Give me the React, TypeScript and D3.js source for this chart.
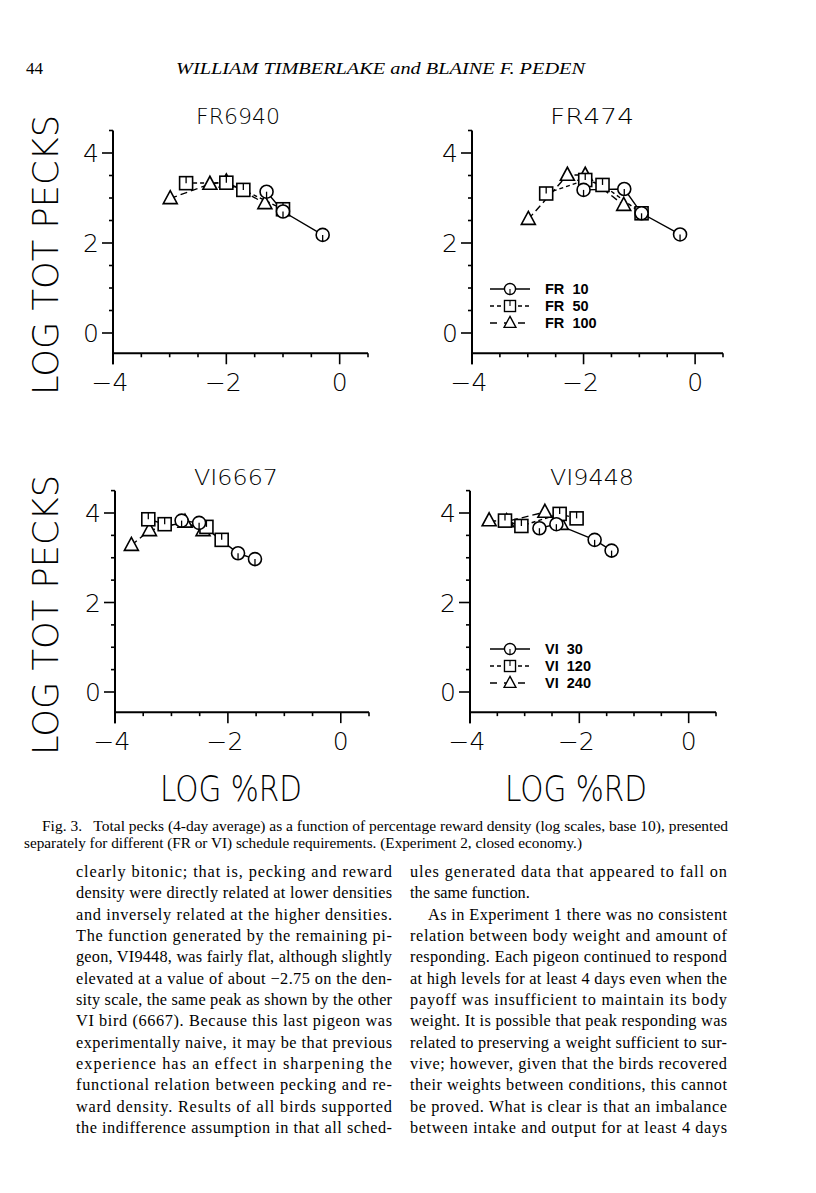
import React from "react";
import * as d3 from "d3";

// ---------- data ----------
const xMajorTicks = [-4, -2, 0];
const yMajorTicks = [0, 2, 4];
const xDomain = [-4, 0.5];
const yDomain = [-0.45, 4.5];

// FR6940
const fr6940_fr10_x = [-1.29, -1.0, -0.3];
const fr6940_fr10_y = [3.14, 2.7, 2.18];
const fr6940_fr50_x = [-2.71, -2.0, -1.7, -1.0];
const fr6940_fr50_y = [3.33, 3.34, 3.18, 2.75];
const fr6940_fr100_x = [-2.99, -2.29, -2.0, -1.32];
const fr6940_fr100_y = [2.99, 3.31, 3.36, 2.88];

// FR474
const fr474_fr10_x = [-2.0, -1.27, -0.96, -0.27];
const fr474_fr10_y = [3.18, 3.2, 2.66, 2.19];
const fr474_fr50_x = [-2.67, -1.97, -1.66, -0.96];
const fr474_fr50_y = [3.1, 3.4, 3.29, 2.66];
const fr474_fr100_x = [-2.99, -2.29, -1.97, -1.28];
const fr474_fr100_y = [2.53, 3.51, 3.51, 2.84];

// VI6667
const vi6667_vi30_x = [-2.82, -2.51, -1.82, -1.52];
const vi6667_vi30_y = [3.83, 3.78, 3.1, 2.97];
const vi6667_vi120_x = [-3.41, -3.12, -2.38, -2.11];
const vi6667_vi120_y = [3.86, 3.75, 3.69, 3.4];
const vi6667_vi240_x = [-3.71, -3.39, -2.76, -2.44];
const vi6667_vi240_y = [3.28, 3.61, 3.8, 3.61];

// VI9448
const vi9448_vi30_x = [-2.73, -2.42, -1.72, -1.41];
const vi9448_vi30_y = [3.66, 3.75, 3.4, 3.16];
const vi9448_vi120_x = [-3.36, -3.06, -2.36, -2.05];
const vi9448_vi120_y = [3.83, 3.71, 3.98, 3.88];
const vi9448_vi240_x = [-3.65, -3.33, -2.63, -2.33];
const vi9448_vi240_y = [3.83, 3.81, 4.02, 3.75];

const frLegend = ["FR  10", "FR  50", "FR  100"];
const viLegend = ["VI  30", "VI  120", "VI  240"];

const leftColumn = [
  "clearly bitonic; that is, pecking and reward",
  "density were directly related at lower densities",
  "and inversely related at the higher densities.",
  "The function generated by the remaining pi-",
  "geon, VI9448, was fairly flat, although slightly",
  "elevated at a value of about \u22122.75 on the den-",
  "sity scale, the same peak as shown by the other",
  "VI bird (6667). Because this last pigeon was",
  "experimentally naive, it may be that previous",
  "experience has an effect in sharpening the",
  "functional relation between pecking and re-",
  "ward density. Results of all birds supported",
  "the indifference assumption in that all sched-",
];
const rightColumn = [
  "ules generated data that appeared to fall on",
  "the same function.",
  "As in Experiment 1 there was no consistent",
  "relation between body weight and amount of",
  "responding. Each pigeon continued to respond",
  "at high levels for at least 4 days even when the",
  "payoff was insufficient to maintain its body",
  "weight. It is possible that peak responding was",
  "related to preserving a weight sufficient to sur-",
  "vive; however, given that the birds recovered",
  "their weights between conditions, this cannot",
  "be proved. What is clear is that an imbalance",
  "between intake and output for at least 4 days",
];

// ---------- layout ----------
const panels = [
  {
    title: "FR6940", tx: 238, ty: 124, xr: [113, 368], y0: 333, yu: 45,
    series: [
      [fr6940_fr10_x, fr6940_fr10_y],
      [fr6940_fr50_x, fr6940_fr50_y],
      [fr6940_fr100_x, fr6940_fr100_y],
    ],
    legend: null as null | string[], ly: 0,
  },
  {
    title: "FR474", tx: 592, ty: 124, xr: [472, 723], y0: 333, yu: 45,
    series: [
      [fr474_fr10_x, fr474_fr10_y],
      [fr474_fr50_x, fr474_fr50_y],
      [fr474_fr100_x, fr474_fr100_y],
    ],
    legend: frLegend, ly: 289,
  },
  {
    title: "VI6667", tx: 236, ty: 485, xr: [115, 369], y0: 692, yu: 44.75,
    series: [
      [vi6667_vi30_x, vi6667_vi30_y],
      [vi6667_vi120_x, vi6667_vi120_y],
      [vi6667_vi240_x, vi6667_vi240_y],
    ],
    legend: null as null | string[], ly: 0,
  },
  {
    title: "VI9448", tx: 592, ty: 485, xr: [470, 716], y0: 692, yu: 44.75,
    series: [
      [vi9448_vi30_x, vi9448_vi30_y],
      [vi9448_vi120_x, vi9448_vi120_y],
      [vi9448_vi240_x, vi9448_vi240_y],
    ],
    legend: viLegend, ly: 649,
  },
];

const plotFont = "'DejaVu Sans', sans-serif";
const dashes = [null, "4,3", "7,4"];

function Marker({ kind, x, y }: { kind: number; x: number; y: number }) {
  const s = 6.5;
  if (kind === 0) {
    return (
      <g>
        <circle cx={x} cy={y} r={s} fill="white" stroke="black" strokeWidth={1.6} />
        <line x1={x} y1={y} x2={x} y2={y + s} stroke="black" strokeWidth={1.3} />
      </g>
    );
  }
  if (kind === 1) {
    return (
      <g>
        <rect x={x - s} y={y - s} width={2 * s} height={2 * s} fill="white" stroke="black" strokeWidth={1.6} />
        <line x1={x} y1={y - s} x2={x} y2={y} stroke="black" strokeWidth={1.3} />
      </g>
    );
  }
  const h = 13;
  return (
    <path
      d={`M${x},${y - h * 0.6} L${x + 7},${y + h * 0.4} L${x - 7},${y + h * 0.4} Z`}
      fill="white"
      stroke="black"
      strokeWidth={1.6}
    />
  );
}

function Panel({ p }: { p: (typeof panels)[number] }) {
  const x = d3.scaleLinear().domain(xDomain).range(p.xr);
  const y = d3
    .scaleLinear()
    .domain([0, 1])
    .range([p.y0, p.y0 - p.yu]);
  const yBottom = y(yDomain[0]);
  const yTop = y(yDomain[1]);
  const xMinor = d3.range(xDomain[0], xDomain[1] + 0.01, 0.5);
  const yMinor = d3.range(0, yDomain[1] + 0.01, 0.5);
  const line = d3
    .line<[number, number]>()
    .x((d) => x(d[0]))
    .y((d) => y(d[1]));
  const x0 = x(xDomain[0]);
  return (
    <g>
      <text x={p.tx} y={p.ty} fontFamily={plotFont} fontSize={21} textAnchor="middle" textLength={84} lengthAdjust="spacingAndGlyphs" fontWeight={300}>
        {p.title}
      </text>
      {/* axes */}
      <line x1={x0} y1={yTop} x2={x0} y2={yBottom + 11} stroke="black" strokeWidth={2} />
      <line x1={x0} y1={yBottom} x2={x(xDomain[1])} y2={yBottom} stroke="black" strokeWidth={2} />
      {yMinor.map((v) => (
        <line key={"ym" + v} x1={x0 - (yMajorTicks.includes(v) ? 11 : 4)} x2={x0} y1={y(v)} y2={y(v)} stroke="black" strokeWidth={1.6} />
      ))}
      {xMinor.map((v) => (
        <line key={"xm" + v} x1={x(v)} x2={x(v)} y1={yBottom} y2={yBottom + (xMajorTicks.includes(v) ? 11 : 4)} stroke="black" strokeWidth={1.6} />
      ))}
      {yMajorTicks.map((v) => (
        <text key={"yl" + v} x={x0 - 22} y={y(v) + 9} fontFamily={plotFont} fontSize={25} textAnchor="middle" fontWeight={300}>
          {v}
        </text>
      ))}
      {xMajorTicks.map((v) => (
        <text key={"xl" + v} x={x(v) + (v < 0 ? -3 : 0)} y={yBottom + 38} fontFamily={plotFont} fontSize={25} textAnchor="middle" fontWeight={300}>
          {v < 0 ? "\u2212" + Math.abs(v) : String(v)}
        </text>
      ))}
      {/* series lines */}
      {p.series.map((s, i) => {
        const pts = s[0].map((vx, j) => [vx, s[1][j]] as [number, number]);
        return (
          <path key={"l" + i} d={line(pts) || ""} fill="none" stroke="black" strokeWidth={1.4} strokeDasharray={dashes[i] || undefined} />
        );
      })}
      {[2, 1, 0].map((i) =>
        p.series[i][0].map((vx, j) => <Marker key={"m" + i + "-" + j} kind={i} x={x(vx)} y={y(p.series[i][1][j])} />)
      )}
      {p.legend &&
        p.legend.map((lab, i) => {
          const ly = p.ly + i * 17;
          return (
            <g key={"lg" + i}>
              <line x1={490} x2={530} y1={ly} y2={ly} stroke="black" strokeWidth={1.4} strokeDasharray={i === 0 ? undefined : i === 1 ? "4,3" : "7,7"} />
              <g transform={`translate(${510},${ly}) scale(0.85) translate(${-510},${-ly})`}>
                <Marker kind={i} x={510} y={ly} />
              </g>
              <text x={545} y={ly + 5} fontFamily="'Liberation Sans', Arial, sans-serif" fontWeight="bold" fontSize={14.5} style={{ whiteSpace: "pre" }}>
                {lab}
              </text>
            </g>
          );
        })}
    </g>
  );
}

function JustLine({ text, x, y, width, justify, indent }: { text: string; x: number; y: number; width: number; justify: boolean; indent?: number }) {
  const ix = indent || 0;
  return (
    <text
      x={x + ix}
      y={y}
      fontFamily="'Liberation Serif', 'Times New Roman', serif"
      fontSize={16.3}
      textLength={justify ? width - ix : undefined}
      lengthAdjust="spacing"
    >
      {text}
    </text>
  );
}

export default function App() {
  const lineH = 21.33;
  const bodyTop = 877;
  return (
    <svg width={816} height={1193} style={{ position: "absolute", left: 0, top: 0, background: "white" }}>
      <rect width={816} height={1193} fill="white" />
      {/* header */}
      <text x={26} y={74} fontFamily="'Liberation Serif', serif" fontSize={17}>44</text>
      <text x={176} y={74} fontFamily="'Liberation Serif', serif" fontStyle="italic" fontSize={17} textLength={409} lengthAdjust="spacingAndGlyphs">
        WILLIAM TIMBERLAKE and BLAINE F. PEDEN
      </text>

      {panels.map((p, i) => (
        <Panel key={i} p={p} />
      ))}

      {/* y axis labels */}
      {[255, 615].map((cy, i) => (
        <text
          key={"yal" + i}
          transform={`translate(58,${cy}) rotate(-90)`}
          textAnchor="middle"
          fontFamily={plotFont}
          fontSize={36}
          fontWeight={300}
          textLength={280}
          lengthAdjust="spacingAndGlyphs"
        >
          LOG TOT PECKS
        </text>
      ))}
      {/* x axis labels */}
      {[231, 576].map((cx, i) => (
        <text key={"xal" + i} x={cx} y={801} textAnchor="middle" fontFamily={plotFont} fontSize={36} fontWeight={300} textLength={142} lengthAdjust="spacingAndGlyphs">
          LOG %RD
        </text>
      ))}

      {/* caption */}
      <text x={42} y={831} fontFamily="'Liberation Serif', serif" fontSize={13.6} textLength={686} lengthAdjust="spacingAndGlyphs">
        Fig. 3.{"\u00a0\u00a0"} Total pecks (4-day average) as a function of percentage reward density (log scales, base 10), presented
      </text>
      <text x={24} y={848} fontFamily="'Liberation Serif', serif" fontSize={13.6} textLength={558} lengthAdjust="spacingAndGlyphs">
        separately for different (FR or VI) schedule requirements. (Experiment 2, closed economy.)
      </text>

      {/* body text */}
      {leftColumn.map((t, i) => (
        <JustLine key={"lc" + i} text={t} x={76} y={bodyTop + i * lineH} width={316} justify={true} />
      ))}
      {rightColumn.map((t, i) => (
        <JustLine key={"rc" + i} text={t} x={410} y={bodyTop + i * lineH} width={317} justify={i !== 1} indent={i === 2 ? 18 : 0} />
      ))}
    </svg>
  );
}
